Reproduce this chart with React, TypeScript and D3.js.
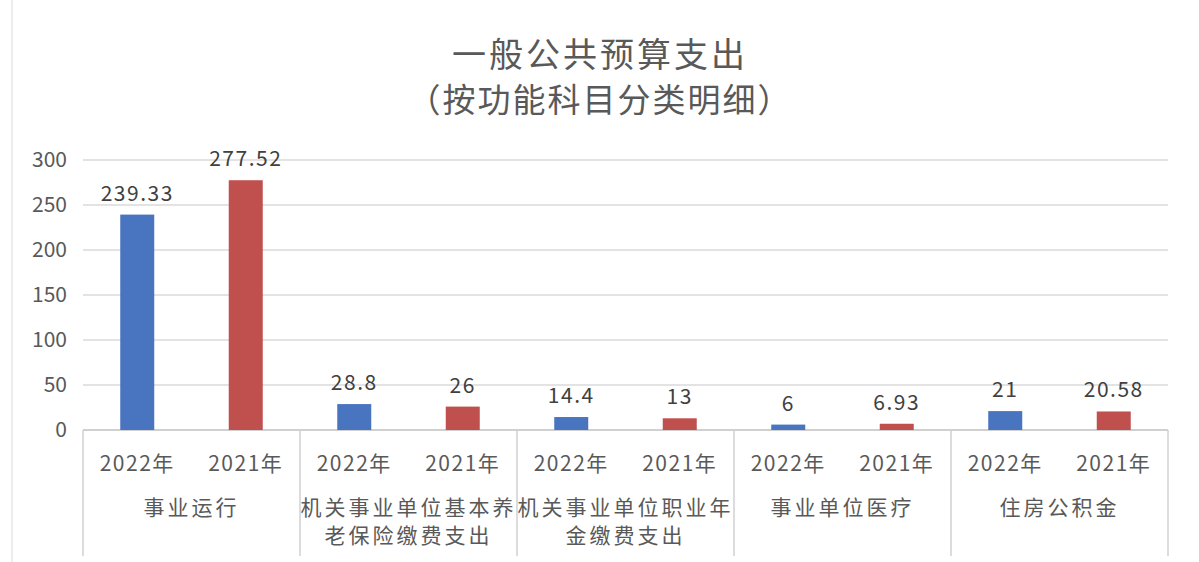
import React from "react";
import * as d3 from "d3";

const categories = [
  ["事业运行"],
  ["机关事业单位基本养", "老保险缴费支出"],
  ["机关事业单位职业年", "金缴费支出"],
  ["事业单位医疗"],
  ["住房公积金"],
];
const years = ["2022年", "2021年"];
const values2022 = [239.33, 28.8, 14.4, 6, 21];
const values2021 = [277.52, 26, 13, 6.93, 20.58];
const labels2022 = ["239.33", "28.8", "14.4", "6", "21"];
const labels2021 = ["277.52", "26", "13", "6.93", "20.58"];
const yTicks = [0, 50, 100, 150, 200, 250, 300];
const colors = ["#4874c0", "#c0504d"];

const W = 1199;
const H = 562;
const left = 83;
const right = 1168;
const top = 160;
const bottom = 430;
const font = "'Noto Sans CJK SC', 'Noto Sans', sans-serif";

export default function App() {
  const y = d3.scaleLinear().domain([0, 300]).range([bottom, top]);
  const xGroup = d3
    .scaleBand<number>()
    .domain(d3.range(categories.length))
    .range([left, right])
    .paddingInner(0)
    .paddingOuter(0);
  const xSub = d3.scaleBand<number>().domain([0, 1]).range([0, xGroup.bandwidth()]);
  const barW = 34;
  const series = [
    { vals: values2022, labels: labels2022 },
    { vals: values2021, labels: labels2021 },
  ];
  return (
    <svg width={W} height={H} style={{ position: "absolute", left: 0, top: 0, background: "#fff" }}>
      <rect x={0} y={0} width={W} height={H} fill="#fff" />
      <line x1={12} y1={0} x2={12} y2={H} stroke="#d9d9d9" />
      <text x={600} y={67} textAnchor="middle" fontFamily={font} fontSize={34} letterSpacing={3} fill="#595959">
        一般公共预算支出
      </text>
      <text x={600} y={112} textAnchor="middle" fontFamily={font} fontSize={33} letterSpacing={2} fill="#595959">
        （按功能科目分类明细）
      </text>
      {yTicks.map((t) => (
        <g key={t}>
          <line x1={left} x2={right} y1={y(t)} y2={y(t)} stroke={t === 0 ? "#d0d0d0" : "#e3e3e3"} strokeWidth={2} />
          <text x={67} y={y(t) + 7} textAnchor="end" fontFamily={font} fontSize={21} fill="#595959">
            {t}
          </text>
        </g>
      ))}
      {d3.range(categories.length + 1).map((i) => {
        const x = i < categories.length ? xGroup(i)! : right;
        return <line key={i} x1={x} x2={x} y1={bottom} y2={556} stroke="#d0d0d0" strokeWidth={1.5} />;
      })}
      {categories.map((cat, i) => {
        const gx = xGroup(i)!;
        return (
          <g key={i}>
            {series.map((s, j) => {
              const cx = gx + xSub(j)! + xSub.bandwidth() / 2;
              return (
                <g key={j}>
                  <rect x={cx - barW / 2} y={y(s.vals[i])} width={barW} height={bottom - y(s.vals[i])} fill={colors[j]} />
                  <text x={cx} y={y(s.vals[i]) - 14} textAnchor="middle" fontFamily={font} fontSize={21} letterSpacing={1.5} fill="#404040">
                    {s.labels[i]}
                  </text>
                  <text x={cx} y={471} textAnchor="middle" fontFamily={font} fontSize={21} letterSpacing={1.5} fill="#595959">
                    {years[j]}
                  </text>
                </g>
              );
            })}
            {cat.map((line, k) => (
              <text key={k} x={gx + xGroup.bandwidth() / 2} y={515 + k * 28} textAnchor="middle" fontFamily={font} fontSize={21} letterSpacing={3} fill="#595959">
                {line}
              </text>
            ))}
          </g>
        );
      })}
    </svg>
  );
}
